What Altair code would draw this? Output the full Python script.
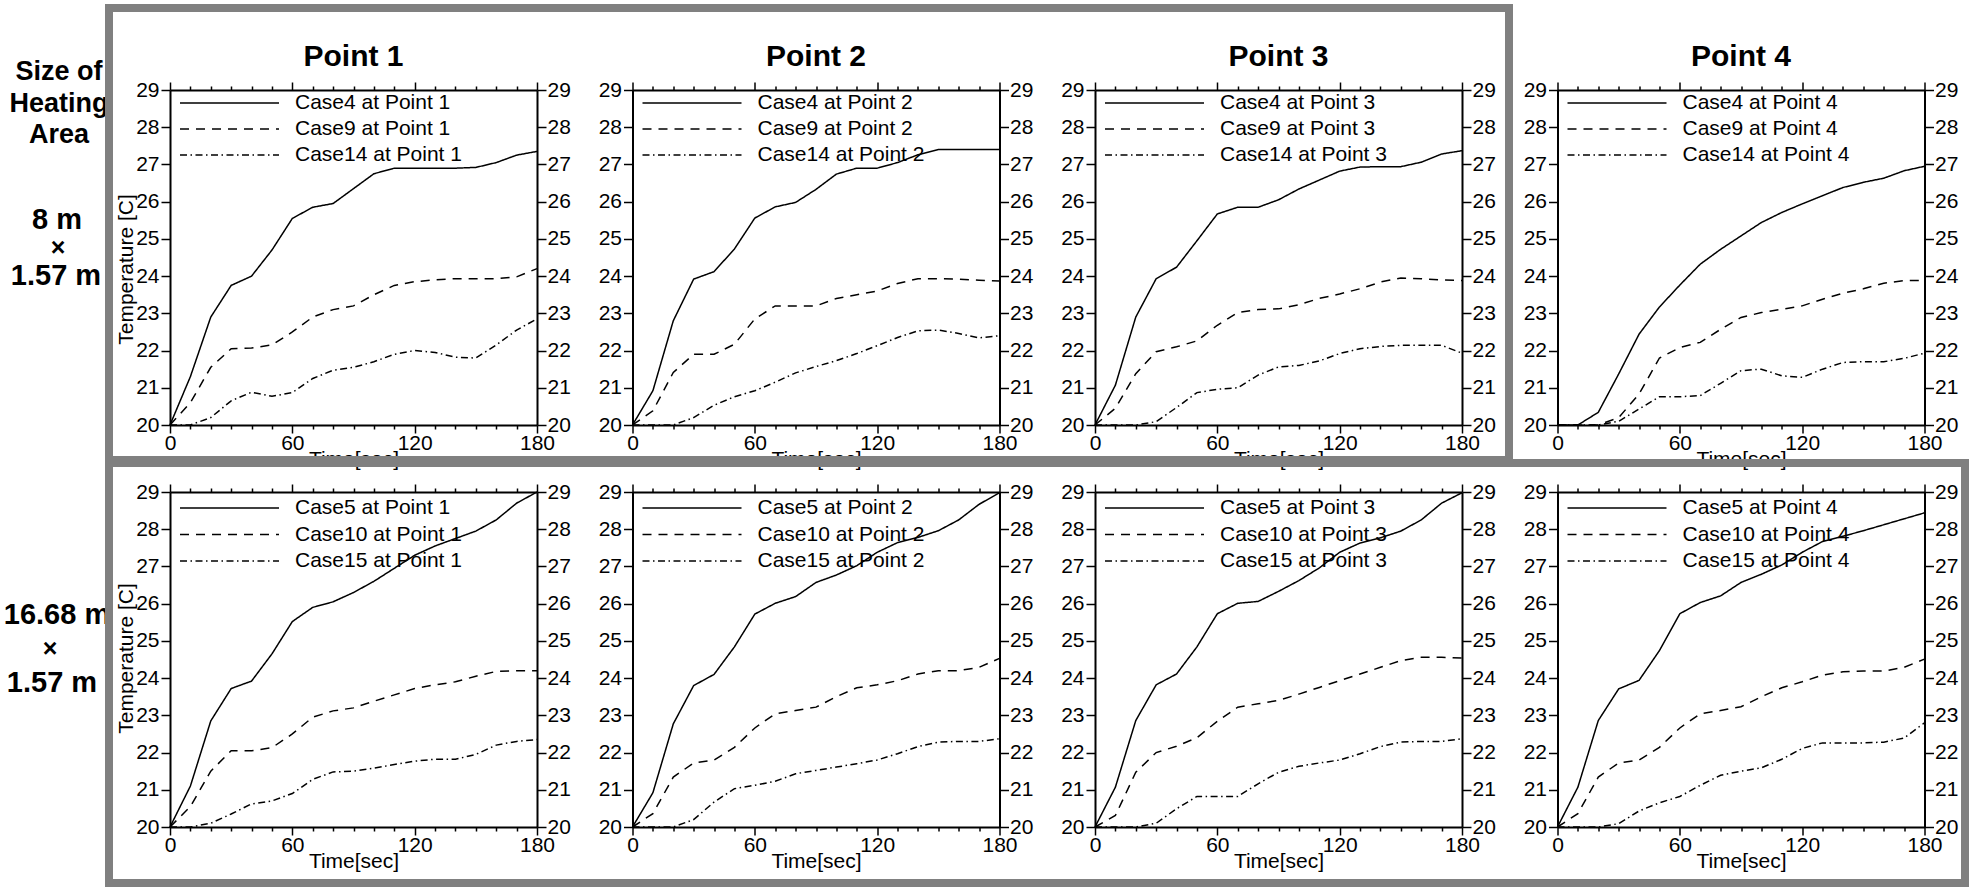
import altair as alt
import pandas as pd

# ---------------- data ----------------
TIME = [0, 10, 20, 30, 40, 50, 60, 70, 80, 90, 100, 110, 120, 130, 140, 150, 160, 170, 180]
X_TICKS = [0, 10, 20, 30, 40, 50, 60, 70, 80, 90, 100, 110, 120, 130, 140, 150, 160, 170, 180]
Y_TICKS = [20, 20.5, 21, 21.5, 22, 22.5, 23, 23.5, 24, 24.5, 25, 25.5, 26, 26.5, 27, 27.5, 28, 28.5, 29]

POINT_TITLES = ["Point 1", "Point 2", "Point 3", "Point 4"]
TOP_CASES = ["Case4", "Case9", "Case14"]
BOTTOM_CASES = ["Case5", "Case10", "Case15"]
HEADER_TEXT = ["Size of", "Heating", "Area"]
TOP_SIZE_TEXT = ["8 m", "\u00d7", "1.57 m"]
BOTTOM_SIZE_TEXT = ["16.68 m", "\u00d7", "1.57 m"]
X_TITLE = "Time[sec]"
Y_TITLE = "Temperature [C]"

# heating area 8 m x 1.57 m
CASE4_P1 = [20.0, 21.3, 22.9, 23.75, 24.0, 24.7, 25.55, 25.85, 25.95, 26.35, 26.75, 26.9, 26.9, 26.9, 26.9, 26.92, 27.05, 27.25, 27.35]
CASE9_P1 = [20.0, 20.6, 21.55, 22.05, 22.07, 22.15, 22.5, 22.9, 23.1, 23.2, 23.5, 23.75, 23.85, 23.9, 23.93, 23.93, 23.93, 23.98, 24.2]
CASE14_P1 = [20.0, 20.0, 20.2, 20.65, 20.88, 20.77, 20.87, 21.25, 21.47, 21.55, 21.7, 21.9, 22.0, 21.95, 21.82, 21.8, 22.15, 22.55, 22.85]

CASE4_P2 = [20.0, 20.92, 22.8, 23.92, 24.12, 24.73, 25.56, 25.86, 25.98, 26.33, 26.74, 26.9, 26.9, 27.05, 27.26, 27.4, 27.4, 27.4, 27.4]
CASE9_P2 = [20.0, 20.38, 21.41, 21.9, 21.9, 22.17, 22.85, 23.2, 23.2, 23.2, 23.4, 23.5, 23.6, 23.8, 23.93, 23.93, 23.92, 23.89, 23.87]
CASE14_P2 = [20.0, 20.0, 20.0, 20.2, 20.53, 20.76, 20.92, 21.15, 21.4, 21.57, 21.73, 21.92, 22.13, 22.35, 22.53, 22.55, 22.46, 22.34, 22.4]

CASE4_P3 = [20.0, 21.07, 22.9, 23.93, 24.24, 24.95, 25.67, 25.85, 25.85, 26.05, 26.34, 26.58, 26.82, 26.93, 26.94, 26.94, 27.06, 27.28, 27.37]
CASE9_P3 = [20.0, 20.45, 21.38, 21.97, 22.1, 22.26, 22.68, 23.02, 23.1, 23.12, 23.23, 23.4, 23.52, 23.66, 23.84, 23.95, 23.93, 23.9, 23.88]
CASE14_P3 = [20.0, 20.0, 20.0, 20.09, 20.47, 20.87, 20.96, 21.0, 21.34, 21.56, 21.6, 21.72, 21.92, 22.05, 22.11, 22.14, 22.14, 22.14, 21.93]

CASE4_P4 = [20.0, 20.0, 20.34, 21.37, 22.44, 23.17, 23.76, 24.32, 24.72, 25.08, 25.44, 25.71, 25.94, 26.16, 26.38, 26.52, 26.63, 26.83, 26.95]
CASE9_P4 = [20.0, 20.0, 20.0, 20.2, 20.83, 21.8, 22.08, 22.22, 22.57, 22.89, 23.02, 23.11, 23.2, 23.38, 23.54, 23.66, 23.81, 23.88, 23.88]
CASE14_P4 = [20.0, 20.0, 20.0, 20.1, 20.43, 20.76, 20.76, 20.79, 21.12, 21.46, 21.5, 21.32, 21.28, 21.5, 21.68, 21.7, 21.7, 21.79, 21.93]

# heating area 16.68 m x 1.57 m
CASE5_P1 = [20.0, 21.1, 22.85, 23.72, 23.92, 24.65, 25.52, 25.9, 26.05, 26.3, 26.6, 26.95, 27.3, 27.55, 27.75, 27.95, 28.25, 28.7, 29.0]
CASE10_P1 = [20.0, 20.55, 21.5, 22.05, 22.05, 22.13, 22.5, 22.95, 23.12, 23.2, 23.38, 23.55, 23.72, 23.82, 23.9, 24.05, 24.18, 24.2, 24.2]
CASE15_P1 = [20.0, 20.0, 20.1, 20.35, 20.62, 20.7, 20.9, 21.28, 21.48, 21.5, 21.58, 21.68, 21.77, 21.82, 21.82, 21.95, 22.2, 22.3, 22.35]

CASE5_P2 = [20.0, 20.92, 22.77, 23.8, 24.1, 24.84, 25.72, 26.01, 26.19, 26.57, 26.77, 27.02, 27.38, 27.64, 27.78, 27.96, 28.25, 28.67, 28.98]
CASE10_P2 = [20.0, 20.36, 21.34, 21.72, 21.8, 22.14, 22.66, 23.04, 23.13, 23.22, 23.5, 23.74, 23.82, 23.93, 24.11, 24.2, 24.2, 24.29, 24.53]
CASE15_P2 = [20.0, 20.0, 20.0, 20.2, 20.67, 21.03, 21.12, 21.23, 21.43, 21.52, 21.61, 21.7, 21.8, 21.97, 22.16, 22.28, 22.3, 22.3, 22.37]

CASE5_P3 = [20.0, 21.07, 22.86, 23.82, 24.11, 24.84, 25.73, 26.01, 26.06, 26.33, 26.62, 26.96, 27.38, 27.63, 27.77, 27.95, 28.25, 28.7, 28.98]
CASE10_P3 = [20.0, 20.31, 21.47, 22.0, 22.17, 22.4, 22.84, 23.22, 23.31, 23.4, 23.57, 23.75, 23.93, 24.11, 24.29, 24.47, 24.56, 24.56, 24.54]
CASE15_P3 = [20.0, 20.0, 20.0, 20.1, 20.49, 20.82, 20.82, 20.82, 21.16, 21.47, 21.63, 21.72, 21.8, 21.97, 22.16, 22.28, 22.3, 22.3, 22.37]

CASE5_P4 = [20.0, 21.07, 22.86, 23.71, 23.94, 24.74, 25.73, 26.03, 26.21, 26.57, 26.79, 27.04, 27.38, 27.67, 27.81, 27.96, 28.12, 28.28, 28.44]
CASE10_P4 = [20.0, 20.36, 21.34, 21.72, 21.8, 22.14, 22.66, 23.04, 23.13, 23.23, 23.5, 23.74, 23.9, 24.08, 24.17, 24.19, 24.19, 24.29, 24.51]
CASE15_P4 = [20.0, 20.0, 20.0, 20.09, 20.43, 20.65, 20.82, 21.12, 21.39, 21.5, 21.59, 21.82, 22.11, 22.26, 22.26, 22.26, 22.28, 22.39, 22.8]

TOP_SERIES = [
    [CASE4_P1, CASE9_P1, CASE14_P1],
    [CASE4_P2, CASE9_P2, CASE14_P2],
    [CASE4_P3, CASE9_P3, CASE14_P3],
    [CASE4_P4, CASE9_P4, CASE14_P4],
]
BOTTOM_SERIES = [
    [CASE5_P1, CASE10_P1, CASE15_P1],
    [CASE5_P2, CASE10_P2, CASE15_P2],
    [CASE5_P3, CASE10_P3, CASE15_P3],
    [CASE5_P4, CASE10_P4, CASE15_P4],
]

# ---------------- style ----------------
FONT = "Liberation Sans"
W, H = 367, 335
DASHES = [[1, 0], [9, 7], [7, 3.5, 1.5, 3.5]]
LEG_RANGE = [[13, 65], [16, 69]]
Y_TITLE_POS = [179, 166]
GRAY = "#808080"


def cond(test, major, minor):
    return {"condition": {"test": test, "value": major}, "value": minor}


def text_mark(txt, x, y, size):
    return alt.Chart(alt.Data(values=[{"t": txt}])).mark_text(
        font=FONT, fontSize=size, fontWeight="bold", align="center",
        baseline="middle", color="black"
    ).encode(x=alt.value(x), y=alt.value(y), text="t:N")


def box(x1, x2, y1, y2):
    return alt.Chart(alt.Data(values=[{"b": 1}])).mark_rect(
        fillOpacity=0, stroke=GRAY, strokeWidth=8
    ).encode(x=alt.value(x1), x2=alt.value(x2), y=alt.value(y1), y2=alt.value(y2))


def make_panel(col, row):
    cases = TOP_CASES if row == 0 else BOTTOM_CASES
    series = (TOP_SERIES if row == 0 else BOTTOM_SERIES)[col]
    point = col + 1
    labels = [f"{c} at Point {point}" for c in cases]
    times, temps, names = [], [], []
    for lab, vals in zip(labels, series):
        times += TIME
        temps += vals
        names += [lab] * len(TIME)
    df = pd.DataFrame({"time": times, "temp": temps, "series": names})

    xs = alt.Scale(domain=[0, 180], nice=False, zero=False)
    ys = alt.Scale(domain=[20, 29], nice=False, zero=False)
    dash = alt.Scale(domain=labels, range=DASHES)

    x_bottom = alt.Axis(
        orient="bottom", values=X_TICKS, format="d",
        labelExpr="datum.value % 60 === 0 ? datum.label : ''",
        tickSize=cond("datum.value % 60 === 0", 8, 4),
        labelPadding=-1, labelFlush=False, labelOverlap=False,
        title=X_TITLE, titleY=34, titleBaseline="middle",
    )
    x_top = alt.Axis(
        orient="top", values=X_TICKS, labels=False,
        tickSize=cond("datum.value % 60 === 0", 8, 4), title=None,
    )
    if col == 0:
        y_left = alt.Axis(
            orient="left", values=Y_TICKS, format="d",
            labelExpr="datum.value % 1 === 0 ? datum.label : ''",
            tickSize=cond("datum.value % 1 === 0", 9, 4),
            labelPadding=2, labelOverlap=False, labelFlush=False,
            title=Y_TITLE, titleX=-44, titleY=Y_TITLE_POS[row],
            titleAngle=270, titleBaseline="middle", titleAlign="center",
        )
    else:
        y_left = alt.Axis(
            orient="left", values=Y_TICKS, format="d",
            labelExpr="datum.value % 1 === 0 ? datum.label : ''",
            tickSize=cond("datum.value % 1 === 0", 9, 4),
            labelPadding=2, labelOverlap=False, labelFlush=False, title=None,
        )
    y_right = alt.Axis(
        orient="right", values=Y_TICKS, format="d",
        labelExpr="datum.value % 1 === 0 ? datum.label : ''",
        tickSize=cond("datum.value % 1 === 0", 9, 4),
        labelPadding=1, labelOverlap=False, labelFlush=False, title=None,
    )

    lines = alt.Chart(df).mark_line(color="black", strokeWidth=1.5).encode(
        x=alt.X("time:Q", scale=xs, axis=x_bottom),
        y=alt.Y("temp:Q", scale=ys, axis=y_left),
        strokeDash=alt.StrokeDash("series:N", scale=dash, legend=None),
    )
    frame_axes = alt.Chart(df).mark_line(opacity=0).encode(
        x=alt.X("time:Q", scale=xs, axis=x_top),
        y=alt.Y("temp:Q", scale=ys, axis=y_right),
        detail="series:N",
    )
    leg = pd.DataFrame({"series": labels})
    leg_y = alt.Y(
        "series:N",
        scale=alt.Scale(type="point", domain=labels, range=LEG_RANGE[row], padding=0),
        axis=None,
    )
    leg_rule = alt.Chart(leg).mark_rule(color="black", strokeWidth=1.5).encode(
        x=alt.value(10), x2=alt.value(109), y=leg_y,
        strokeDash=alt.StrokeDash("series:N", scale=dash, legend=None),
    )
    leg_text = alt.Chart(leg).mark_text(
        align="left", baseline="middle", font=FONT, fontSize=21, color="black"
    ).encode(x=alt.value(125), y=leg_y, text="series:N")

    layers = [lines, frame_axes, leg_rule, leg_text]

    if row == 1 and col == 0:
        # everything outside the plot grid lives here (relative to this plot's origin)
        ox, oy = 169, 491
        layers += [
            text_mark(HEADER_TEXT[0], 58 - ox, 71 - oy, 27),
            text_mark(HEADER_TEXT[1], 58 - ox, 103 - oy, 27),
            text_mark(HEADER_TEXT[2], 58 - ox, 134 - oy, 27),
            text_mark(TOP_SIZE_TEXT[0], 56 - ox, 219 - oy, 29),
            text_mark(TOP_SIZE_TEXT[1], 57 - ox, 247 - oy, 25),
            text_mark(TOP_SIZE_TEXT[2], 55 - ox, 275 - oy, 29),
            text_mark(BOTTOM_SIZE_TEXT[0], 56 - ox, 614 - oy, 29),
            text_mark(BOTTOM_SIZE_TEXT[1], 49 - ox, 648 - oy, 25),
            text_mark(BOTTOM_SIZE_TEXT[2], 51 - ox, 682 - oy, 29),
            box(108 - ox, 1508 - ox, 7 - oy, 459 - oy),
            box(108 - ox, 1964 - ox, 462 - oy, 882 - oy),
            alt.Chart(alt.Data(values=[{"a": 1}])).mark_point(
                size=1, opacity=0, filled=True
            ).encode(x=alt.value(-ox), y=alt.value(-oy)),
        ]

    ch = alt.layer(*layers).resolve_scale(y="independent").resolve_axis(
        x="independent", y="independent"
    )
    if row == 0:
        ch = ch.properties(width=W, height=H, title=alt.TitleParams(POINT_TITLES[col]))
    else:
        ch = ch.properties(width=W, height=H)
    return ch


panels = [make_panel(c, r) for r in range(2) for c in range(4)]

chart = alt.concat(
    *panels, columns=4, spacing={"row": 67, "column": 95.5}, bounds="flush"
).properties(padding=0, background="white").configure_view(
    stroke="transparent"
).configure_axis(
    labelFont=FONT, labelFontSize=21, labelColor="black",
    titleFont=FONT, titleFontSize=21, titleFontWeight="normal", titleColor="black",
    domainColor="black", domainWidth=2, tickColor="black", tickWidth=1.5, grid=False,
).configure_title(
    font=FONT, fontSize=30, fontWeight="bold", color="black", anchor="middle",
    frame="group", baseline="alphabetic", offset=7,
)

chart.save("out.html", embed_options={"renderer": "svg", "actions": False})
